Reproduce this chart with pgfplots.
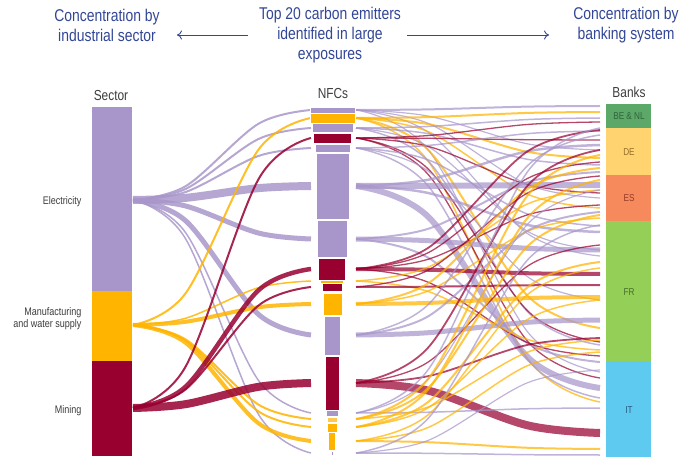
\documentclass[border=0pt]{standalone}
\usepackage{pgfplots}
\pgfplotsset{compat=1.18}
\usetikzlibrary{arrows.meta}
\usepackage{fontspec}
\setmainfont{Liberation Sans}[FakeStretch=0.82]
\definecolor{lav}{RGB}{168,150,202}
\definecolor{amb}{RGB}{255,180,0}
\definecolor{lamb}{RGB}{255,200,80}
\definecolor{crim}{RGB}{152,0,48}
\definecolor{tblue}{RGB}{50,70,150}
\definecolor{bbe}{RGB}{92,168,104}
\definecolor{bde}{RGB}{255,212,112}
\definecolor{bes}{RGB}{246,138,92}
\definecolor{bfr}{RGB}{148,208,88}
\definecolor{bit}{RGB}{94,202,240}
\definecolor{lbl}{RGB}{60,60,60}
\def\tens{0.55}
% link from sector (y0) to NFC (y1)
\newcommand{\lf}[4]{\pgfmathsetmacro\flya{#1+0.156*(#2-#1)}\pgfmathsetmacro\flyb{#1+0.844*(#2-#1)}%
\addplot[draw=#3, line width=#4pt, smooth, tension=\tens, opacity=0.85] coordinates {(133,#1) (186,\flya) (258,\flyb) (311,#2)};}
% link from NFC (y0) to bank (y1)
\newcommand{\rf}[4]{\pgfmathsetmacro\flya{#1+0.156*(#2-#1)}\pgfmathsetmacro\flyb{#1+0.844*(#2-#1)}%
\addplot[draw=#3, line width=#4pt, smooth, tension=\tens, opacity=0.72] coordinates {(356,#1) (429,\flya) (527,\flyb) (600,#2)};}
% box x0 x1 y0 y1 colour
\newcommand{\bx}[5]{\addplot[fill=#5, draw=none] coordinates {(#1,#3) (#2,#3) (#2,#4) (#1,#4)} -- cycle;}
\newcommand{\nd}[5]{\addplot[fill=#5, draw=white, line width=0.5pt] coordinates {(#1,#3) (#2,#3) (#2,#4) (#1,#4)} -- cycle;}
\begin{document}
\begin{tikzpicture}
\begin{axis}[x=1pt, y=1pt, xmin=0, xmax=683, ymin=0, ymax=457, y dir=reverse, hide axis, clip=false]
% ---- right links (NFC -> banks)
\rf{110}{106}{lav}{2}\rf{110}{150}{lav}{1.2}\rf{110}{198}{lav}{1.2}\rf{110}{256}{lav}{1.2}\rf{110}{372}{lav}{1.2}
\rf{118}{112}{amb}{2}\rf{118}{158}{amb}{2}\rf{118}{208}{amb}{1.5}\rf{118}{328}{amb}{2}\rf{118}{402}{amb}{1.5}
\rf{128}{118}{lav}{1.5}\rf{128}{165}{lav}{1.5}\rf{128}{345}{lav}{1.5}\rf{128}{250}{lav}{1.2}
\rf{138}{122}{crim}{1.3}\rf{138}{140}{crim}{1.3}\rf{138}{193}{crim}{1.3}\rf{138}{342}{crim}{1.3}\rf{138}{378}{crim}{1.3}
\rf{148}{131}{lav}{1.5}\rf{148}{226}{lav}{1.5}\rf{148}{398}{lav}{1.5}\rf{148}{300}{lav}{1.2}
\rf{186}{185}{lav}{6}\rf{186}{388}{lav}{6}\rf{186}{145}{lav}{2.5}\rf{186}{232}{lav}{2.5}
\rf{239}{250}{lav}{5}\rf{239}{172}{lav}{2}\rf{239}{362}{lav}{2}
\rf{269}{274}{crim}{4}\rf{269}{130}{crim}{1.8}\rf{269}{162}{crim}{1.3}\rf{269}{205}{crim}{1.3}\rf{269}{356}{crim}{1.3}
\rf{281}{190}{amb}{1.5}\rf{281}{350}{amb}{1.5}
\rf{287}{285}{crim}{2}\rf{287}{176}{crim}{1.3}
\rf{304}{297}{amb}{4}\rf{304}{168}{amb}{2}\rf{304}{218}{amb}{1.5}
\rf{335}{320}{lav}{5}\rf{335}{212}{lav}{2}\rf{335}{135}{lav}{1.5}
\rf{383}{433}{crim}{8}\rf{383}{150}{crim}{1.8}\rf{383}{338}{crim}{1.8}\rf{383}{245}{crim}{1.3}
\rf{413}{128}{lav}{1.5}\rf{413}{408}{lav}{1.5}\rf{413}{190}{lav}{1.2}
\rf{419}{155}{amb}{2}\rf{419}{215}{amb}{2}\rf{419}{340}{amb}{1.5}
\rf{427}{180}{amb}{2}\rf{427}{300}{amb}{1.5}\rf{427}{262}{amb}{2}
\rf{441}{352}{amb}{1.5}\rf{441}{449}{amb}{2}\rf{441}{268}{amb}{1.5}
\rf{453}{455}{lav}{1.5}\rf{453}{225}{lav}{1.5}\rf{453}{370}{lav}{1.2}
% ---- left links (sector -> NFC)
\lf{200}{110}{lav}{2}\lf{200}{128}{lav}{2}\lf{200}{148}{lav}{2}\lf{200}{186}{lav}{8}\lf{200}{239}{lav}{5}
\lf{200}{335}{lav}{5}\lf{200}{413}{lav}{1.5}\lf{200}{453}{lav}{1.5}
\lf{325}{118}{amb}{2}\lf{325}{281}{amb}{1.5}\lf{325}{304}{amb}{4}\lf{325}{419}{amb}{2}\lf{325}{427}{amb}{2}\lf{325}{441}{amb}{4}
\lf{408}{138}{crim}{2}\lf{408}{269}{crim}{4.5}\lf{408}{287}{crim}{2}\lf{408}{383}{crim}{8}
% ---- sector bar
\bx{92}{132}{107}{291}{lav}
\bx{92}{132}{291}{361}{amb}
\bx{92}{132}{361}{456}{crim}
% ---- NFC nodes
\nd{310}{355}{107}{113}{lav}
\nd{310}{355}{113}{123}{amb}
\nd{312}{353}{123}{132}{lav}
\nd{313}{351}{133}{143}{crim}
\nd{315}{350}{144}{152}{lav}
\nd{316}{349}{153}{219}{lav}
\nd{317}{347}{220}{257}{lav}
\nd{318}{345}{258}{280}{crim}
\nd{320}{343}{280}{283}{amb}
\nd{322}{342}{283}{291}{crim}
\nd{323}{342}{293}{315}{amb}
\nd{324}{340}{316}{355}{lav}
\nd{325}{339}{356}{410}{crim}
\nd{326}{338}{410}{416}{lav}
\nd{327}{337}{417}{422}{lamb}
\nd{327}{337}{423}{432}{amb}
\nd{328}{335}{432}{450}{amb}
\nd{331}{333}{451}{455}{lav}
% ---- bank bar
\bx{606}{651}{104}{128}{bbe}
\bx{606}{651}{128}{175}{bde}
\bx{606}{651}{175}{221}{bes}
\bx{606}{651}{221}{361}{bfr}
\bx{606}{651}{361}{457}{bit}
% ---- arrows
\addplot[tblue, line width=0.9pt, -{To[length=5pt,width=9pt]}] coordinates {(248,35) (177,35)};
\addplot[tblue, line width=0.9pt, -{To[length=5pt,width=9pt]}] coordinates {(407,35) (549,35)};
% ---- texts
\node[align=center, text=tblue, font=\fontsize{17}{20}\selectfont] at (axis cs:107,25) {Concentration by\\industrial sector};
\node[align=center, text=tblue, font=\fontsize{17}{20}\selectfont] at (axis cs:330,35) {Top 20 carbon emitters\\identified in large\\exposures};
\node[align=center, text=tblue, font=\fontsize{17}{20}\selectfont] at (axis cs:626,25) {Concentration by\\banking system};
\node[text=lbl, font=\fontsize{14.5}{16}\selectfont] at (axis cs:111,96) {Sector};
\node[text=lbl, font=\fontsize{14.5}{16}\selectfont] at (axis cs:333,94) {NFCs};
\node[text=lbl, font=\fontsize{14.5}{16}\selectfont] at (axis cs:629,92) {Banks};
\node[anchor=east, text=lbl, font=\fontsize{11}{12}\selectfont] at (axis cs:85,202) {Electricity};
\node[anchor=east, align=right, text=lbl, font=\fontsize{11}{12}\selectfont] at (axis cs:85,319) {Manufacturing\\and water supply};
\node[anchor=east, text=lbl, font=\fontsize{11}{12}\selectfont] at (axis cs:85,411) {Mining};
\node[text={rgb,255:red,50;green,100;blue,60}, font=\fontsize{10}{11}\selectfont] at (axis cs:629,116) {BE \& NL};
\node[text={rgb,255:red,150;green,110;blue,40}, font=\fontsize{10}{11}\selectfont] at (axis cs:629,152) {DE};
\node[text={rgb,255:red,150;green,60;blue,40}, font=\fontsize{10}{11}\selectfont] at (axis cs:629,198) {ES};
\node[text={rgb,255:red,70;green,110;blue,40}, font=\fontsize{10}{11}\selectfont] at (axis cs:629,292) {FR};
\node[text={rgb,255:red,40;green,90;blue,130}, font=\fontsize{10}{11}\selectfont] at (axis cs:629,410) {IT};
\end{axis}
\pgfresetboundingbox
\useasboundingbox (current axis.south west) rectangle (current axis.north east);
\end{tikzpicture}
\end{document}
